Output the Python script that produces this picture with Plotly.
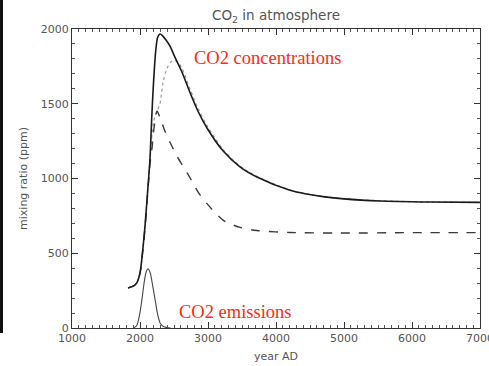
import plotly.graph_objects as go

# Data
conc_years = [1824, 1900, 1950, 2000, 2040, 2074, 2110, 2147, 2170, 2191, 2215, 2235, 2260, 2294, 2330,
              2380, 2441, 2520, 2618, 2735, 2853, 2985, 3220, 3470, 3720, 4206, 4450, 4690, 5000, 5529, 6265, 7000]
conc_solid = [268, 280, 300, 369, 520, 685, 900, 1134, 1380, 1577, 1760, 1870, 1945, 1966, 1956,
              1928, 1885, 1805, 1711, 1575, 1450, 1338, 1185, 1078, 1010, 921, 896, 879, 864, 850, 843, 840]

dash_years = [1824, 1900, 1950, 2000, 2040, 2074, 2110, 2147, 2176, 2210, 2250, 2300, 2360, 2441,
              2550, 2691, 2735, 2853, 2985, 3220, 3470, 3720, 4206, 4940, 6000, 7000]
conc_dashed = [268, 280, 300, 365, 510, 670, 880, 1100, 1200, 1350, 1450, 1400, 1325, 1242,
               1145, 1040, 1005, 910, 832, 722, 673, 652, 639, 635, 638, 638]

dot_years = [1824, 1900, 1950, 2000, 2074, 2147, 2200, 2250, 2294, 2338, 2400, 2471, 2550, 2618,
             2735, 2853, 2985, 3220, 3470, 3720, 4206, 4450, 4690, 5000, 5529, 6265, 7000]
conc_dotted = [268, 280, 300, 369, 680, 1120, 1380, 1450, 1500, 1640, 1740, 1785, 1782, 1735,
               1600, 1470, 1355, 1195, 1084, 1014, 923, 897, 880, 865, 851, 843, 840]

emis_years = [1900, 1950, 1990, 2030, 2060, 2090, 2118, 2150, 2180, 2220, 2260, 2300, 2350, 2450]
emissions = [0, 15, 80, 195, 300, 375, 396, 370, 300, 195, 90, 30, 8, 0]

x_ticks = [1000, 2000, 3000, 4000, 5000, 6000, 7000]
y_ticks = [0, 500, 1000, 1500, 2000]

GRAY = "#555555"
fig = go.Figure()
fig.add_trace(go.Scatter(x=dot_years, y=conc_dotted, mode="lines",
                         line=dict(color="#9a9a9a", width=1.2, dash="dot", shape="spline", smoothing=0.8)))
fig.add_trace(go.Scatter(x=dash_years, y=conc_dashed, mode="lines",
                         line=dict(color="#3a3a3a", width=1.4, dash="dash", shape="spline", smoothing=0.8)))
fig.add_trace(go.Scatter(x=conc_years, y=conc_solid, mode="lines",
                         line=dict(color="#1a1a1a", width=1.6, shape="spline", smoothing=0.8)))
fig.add_trace(go.Scatter(x=emis_years, y=emissions, mode="lines",
                         line=dict(color="#444444", width=1.1, shape="spline", smoothing=0.8)))

axis_common = dict(showgrid=False, zeroline=False, showline=True, linecolor="#333333", linewidth=1.2,
                   mirror="ticks", ticks="inside", ticklen=6, tickcolor="#333333",
                   tickfont=dict(family="DejaVu Sans", size=11, color=GRAY),
                   ticklabeloverflow="allow", automargin=False)
fig.update_xaxes(range=[1000, 7000], tickvals=x_ticks, ticktext=[str(v) for v in x_ticks],
                 title=dict(text="year AD", font=dict(family="DejaVu Sans", size=11, color=GRAY), standoff=8),
                 minor=dict(ticks="inside", dtick=100, ticklen=3, tickcolor="#555555"),
                 **axis_common)
fig.update_yaxes(range=[0, 2000], tickvals=y_ticks, ticktext=[str(v) for v in y_ticks],
                 title=dict(text="mixing ratio (ppm)", font=dict(family="DejaVu Sans", size=11, color=GRAY), standoff=10),
                 minor=dict(ticks="inside", dtick=100, ticklen=3, tickcolor="#555555"),
                 **axis_common)

fig.add_annotation(text="CO2 concentrations", xref="paper", yref="paper",
                   x=(192 - 72) / 408, y=(328 - 58) / 299, xanchor="left", yanchor="middle",
                   showarrow=False, font=dict(family="Liberation Serif", size=18.5, color="#ff2a10"))
fig.add_annotation(text="CO2 emissions", xref="paper", yref="paper",
                   x=(177 - 72) / 408, y=(328 - 312) / 299, xanchor="left", yanchor="middle",
                   showarrow=False, font=dict(family="Liberation Serif", size=18.5, color="#ff2a10"))
fig.add_annotation(text="CO<sub>2</sub> in atmosphere", xref="paper", yref="paper",
                   x=0.5, y=(328 - 16) / 299, xanchor="center", yanchor="middle",
                   showarrow=False, font=dict(family="DejaVu Sans", size=13.5, color=GRAY))

# dark strip at left edge of the scanned image
fig.add_shape(type="rect", xref="paper", yref="paper",
              x0=(0 - 72) / 408, x1=(3 - 72) / 408, y0=(328 - 333) / 299, y1=(328 + 5) / 299,
              fillcolor="#111111", line=dict(width=0), layer="above")

fig.update_layout(width=489, height=366, margin=dict(l=72, r=9, t=29, b=38),
                  paper_bgcolor="white", plot_bgcolor="white", showlegend=False)
fig.write_html("out.html", config={"displayModeBar": False},
               post_script="document.body.style.margin='0';")
